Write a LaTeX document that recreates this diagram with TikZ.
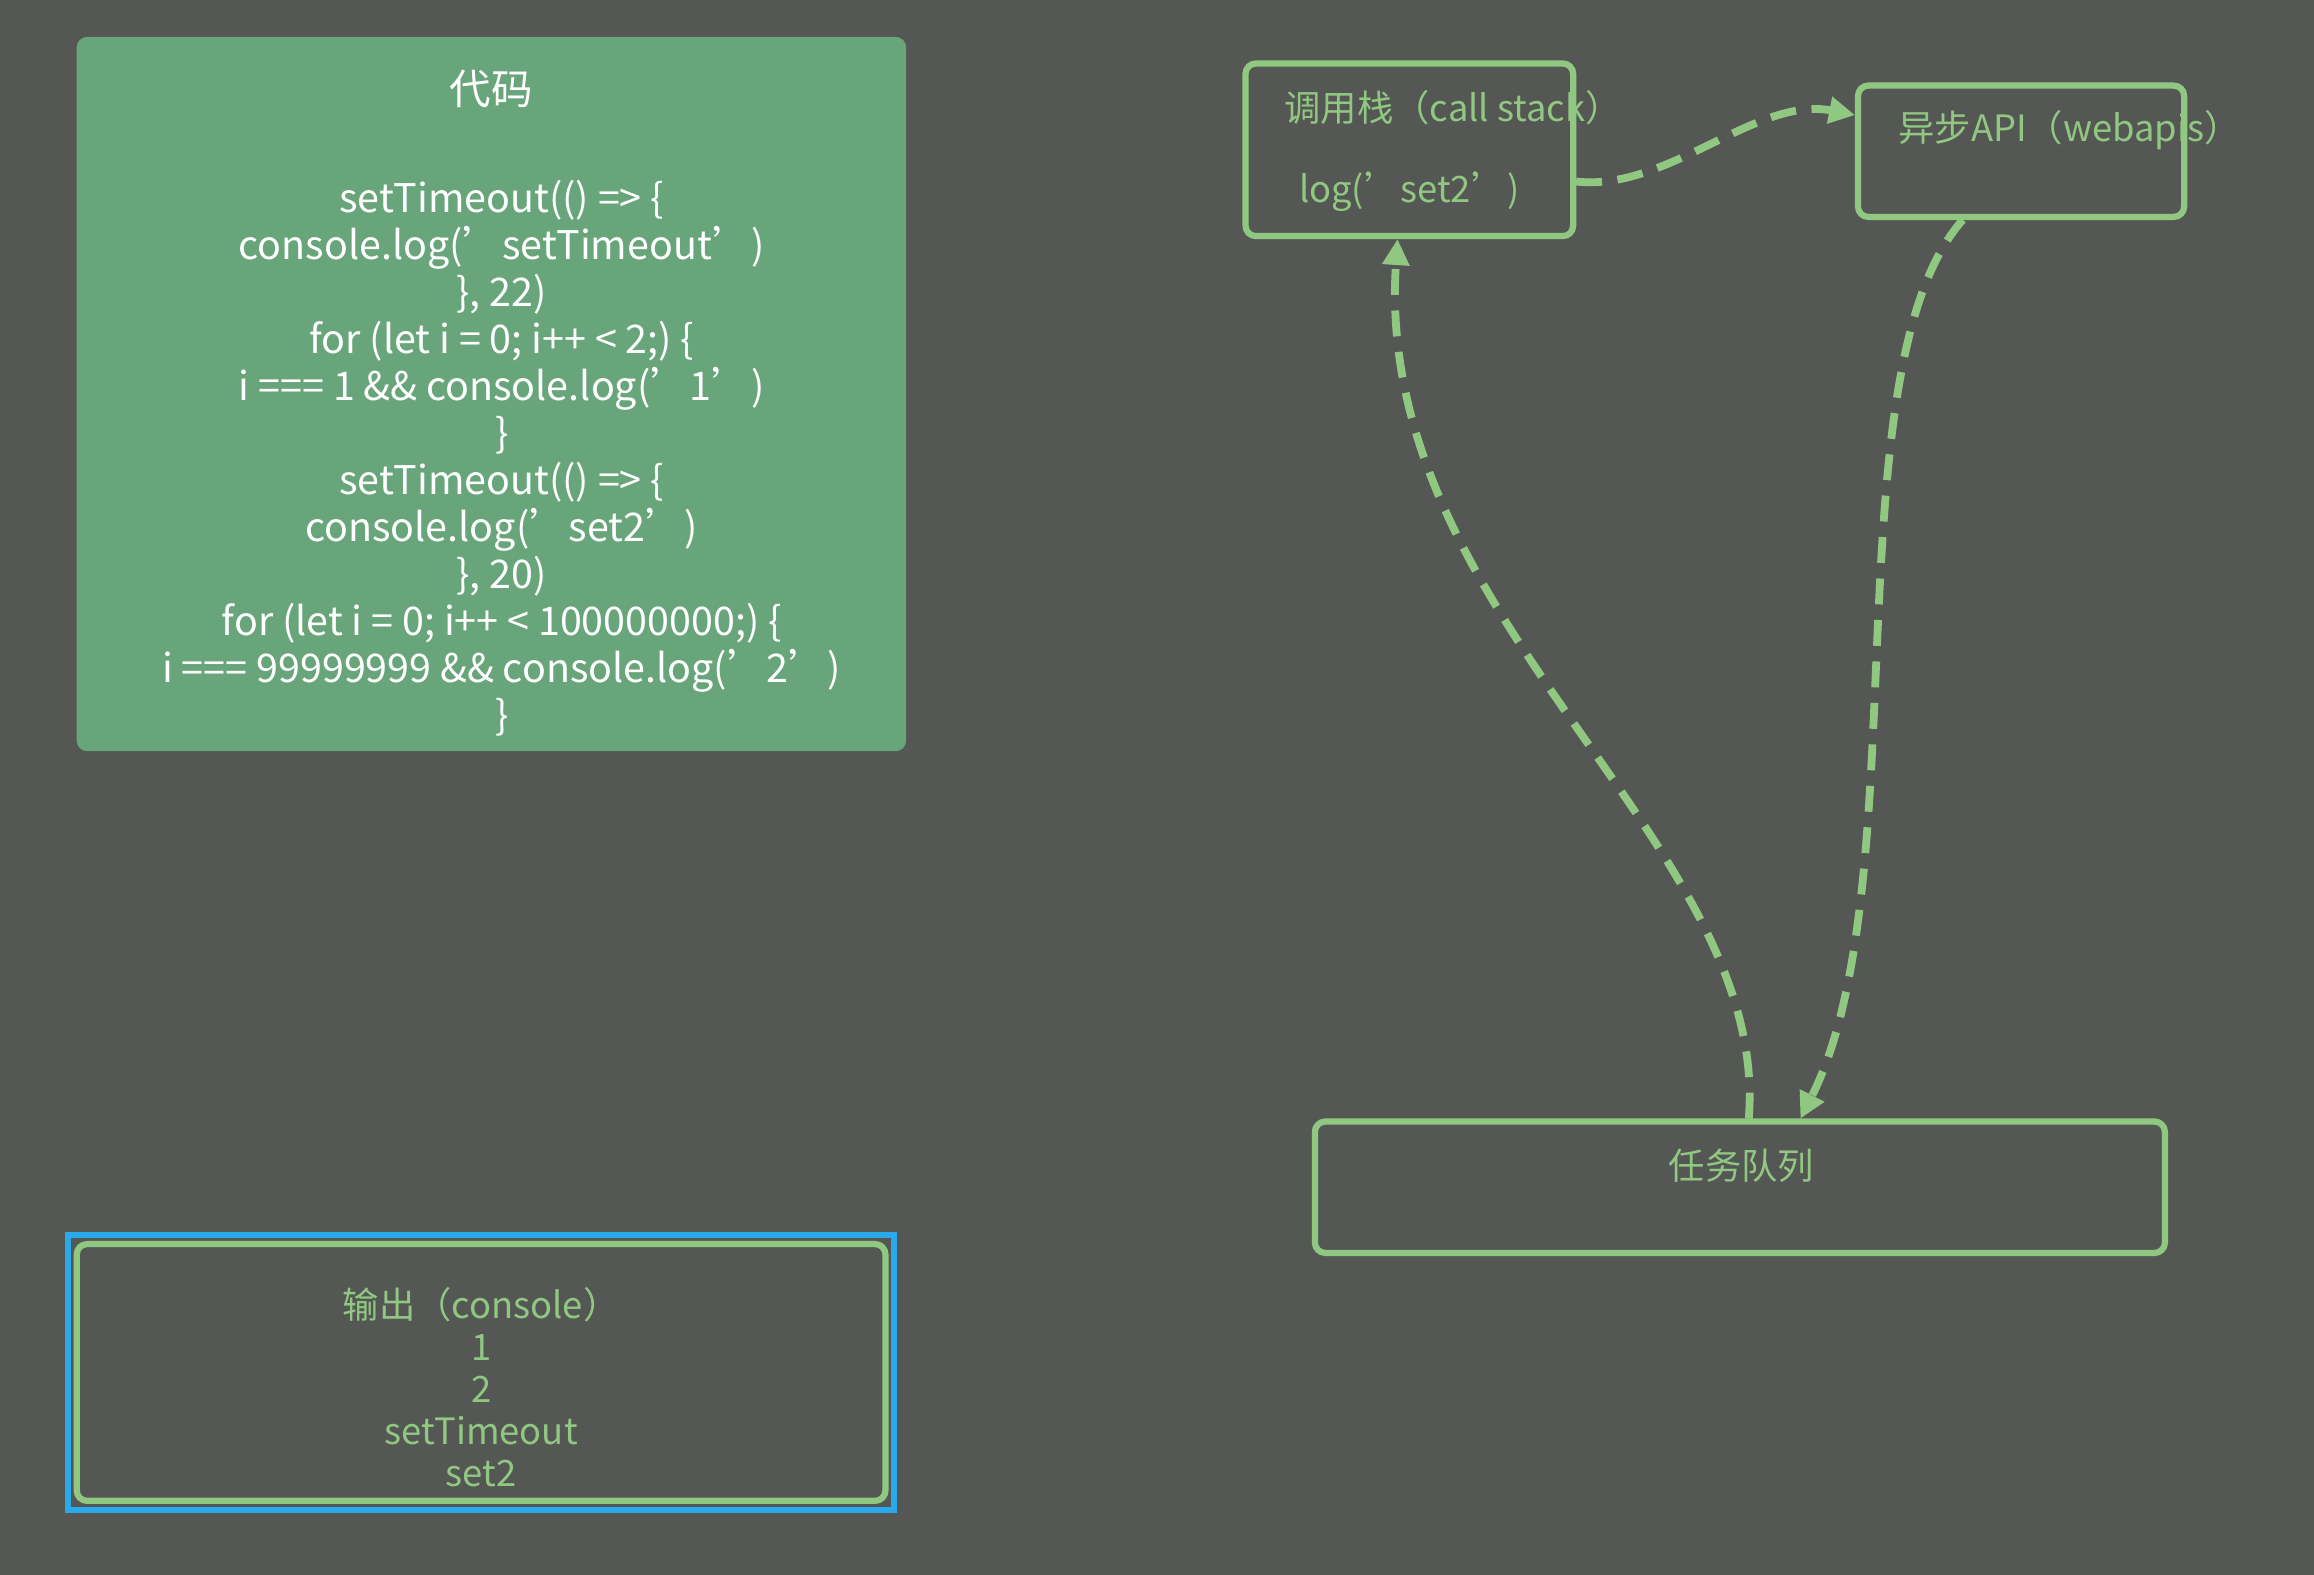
\documentclass[tikz,border=0pt]{standalone}
\usepackage{fontspec}
\setmainfont{Noto Sans CJK SC}
\definecolor{bg}{RGB}{85,87,84}
\definecolor{codegreen}{RGB}{104,165,122}
\definecolor{lgreen}{RGB}{144,200,130}
\definecolor{sky}{RGB}{40,170,235}
\usetikzlibrary{arrows.meta}
\tikzset{
	box/.style = {draw = lgreen, line width = 1.2pt, rounded corners = 2pt, anchor = north west},
	flow/.style = {draw = lgreen, line width = 1.5pt, dashed, dash pattern = on 5pt off 3pt, -{Triangle[length=5pt,width=5pt]}},
	txt/.style = {text = lgreen, font = \fontsize{7pt}{8.6pt}\selectfont, align = center}
}
\begin{document}
\begin{tikzpicture}[x = 0.01cm, y = -0.01cm]
	\fill[bg] (0,0) rectangle (1568,1067);
	% code
	\draw[fill = codegreen, draw = none, rounded corners = 2pt] (52,25) rectangle (614,509);
	\node[text = white, font = \fontsize{8pt}{9pt}\selectfont] (TITLE) at (333,60) {代码};
	\node[text = white, font = \fontsize{7.6pt}{9.05pt}\selectfont, align = center, anchor = north] (CODE) at (340,110) {setTimeout(() => \{\\ console.log('setTimeout')\\ \}, 22)\\ for (let i = 0; i++ < 2;) \{\\ i === 1 \&\& console.log('1')\\ \}\\ setTimeout(() => \{\\ console.log('set2')\\ \}, 20)\\ for (let i = 0; i++ < 100000000;) \{\\ i === 99999999 \&\& console.log('2')\\ \}};
	% boxes
	\draw[box] (844,43) rectangle (1066,160);
	\coordinate (STACK) at (955,101);
	\node[txt, anchor = west] (STACKT) at (858,73) {调用栈（call stack）};
	\node[txt] (STACKL) at (955,130) {log('set2')};
	\draw[box] (1259,58) rectangle (1480,147);
	\node[txt, anchor = west] (APIT) at (1274,88) {异步API（webapis）};
	\draw[box] (891,760) rectangle (1467,849);
	\node[txt] (QUEUET) at (1180,790) {任务队列};
	% output
	\draw[draw = sky, line width = 1.2pt] (46,837) rectangle (606,1023);
	\draw[box] (52,843) rectangle (600,1017);
	\node[txt, font = \fontsize{7pt}{8.1pt}\selectfont, anchor = north] (OUT) at (326,860) {输出（console）\\ 1\\ 2\\ setTimeout\\ set2};
	% arrows
	\coordinate (S1) at (1068,123);
	\coordinate (A1) at (1257,78);
	\coordinate (A2) at (1330,149);
	\coordinate (Q1) at (1220,758);
	\coordinate (Q2) at (1185,758);
	\coordinate (S2) at (947,162);
	\draw[flow] (S1) .. controls (1130,130) and (1190,65) .. (A1);
	\draw[flow] (A2) .. controls (1240,250) and (1300,600) .. (Q1);
	\draw[flow] (Q2) .. controls (1200,570) and (930,420) .. (S2);
\end{tikzpicture}
\end{document}
